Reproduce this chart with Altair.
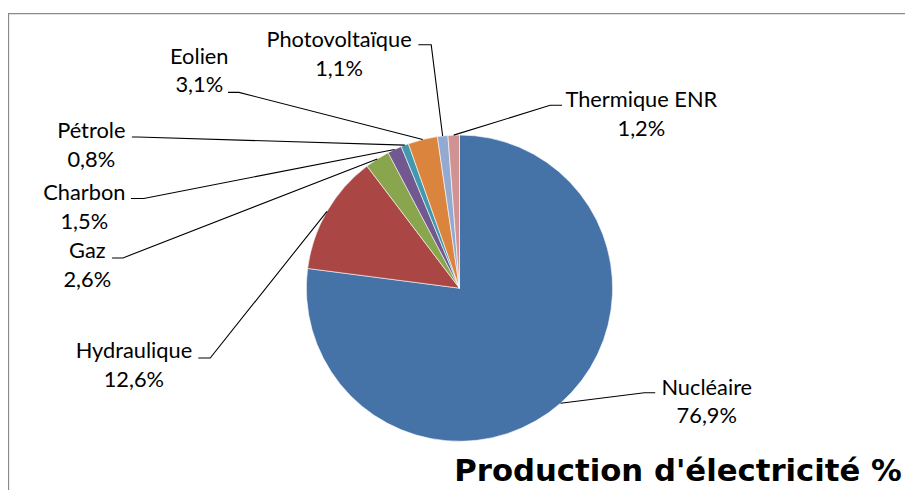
import math
import altair as alt
import pandas as pd

# ---- data ----
categories = ["Nucléaire", "Hydraulique", "Gaz", "Charbon", "Pétrole",
              "Eolien", "Photovoltaïque", "Thermique ENR"]
values = [76.9, 12.6, 2.6, 1.5, 0.8, 3.1, 1.1, 1.2]
colors = ["#4572A7", "#AA4643", "#89A54E", "#71588F", "#4198AF",
          "#DB843D", "#93A9CF", "#D19392"]
title_text = "Production d'électricité %"

# ---- layout (page pixel coordinates; chart origin is at page (8, 8)) ----
OX, OY = 8, 8
W, H = 905, 482
CX, CY, R = 463.5 - OX, 288.5 - OY, 154.5

label_cx = [713, 135, 88, 85, 92, 201, 342, 647]
label_base = [396, 359, 258, 200, 137, 62, 45, 106]
line_gap = 29
leader_start_x = [661, 200, 113, 132, 133, 230, 422, 567]
leader_elbow_x = [650, 212, 124, 145, 139, 241, 435, 555]
leader_y = [394, 359, 258, 198, 136, 91, 43, 104]

LABEL_FONT = "Lato"
LABEL_SIZE = 22

# ---- tables built from the arrays ----
pie_df = pd.DataFrame({"category": categories, "value": values,
                       "idx": list(range(len(categories)))})

total = sum(values)
cum = 0.0
line_rows, text_rows = [], []
for i, (c, v) in enumerate(zip(categories, values)):
    mid = (cum + v / 2.0) / total * 2 * math.pi
    cum += v
    ex = CX + R * math.sin(mid)
    ey = CY - R * math.cos(mid)
    pts = [(leader_start_x[i] - OX, leader_y[i] - OY),
           (leader_elbow_x[i] - OX, leader_y[i] - OY),
           (ex, ey)]
    for k, (px, py) in enumerate(pts):
        line_rows.append({"category": c, "pt": k, "x": px, "y": py})
    pct = f"{v:.1f}".replace(".", ",") + "%"
    text_rows.append({"category": c, "label": c, "x": label_cx[i] - OX,
                      "y": label_base[i] - OY})
    text_rows.append({"category": c, "label": pct, "x": label_cx[i] - OX,
                      "y": label_base[i] + line_gap - OY})

line_df = pd.DataFrame(line_rows)
text_df = pd.DataFrame(text_rows)
title_df = pd.DataFrame({"label": [title_text], "x": [684 - OX], "y": [483 - OY]})

X = lambda f: alt.X(f, type="quantitative", scale=None, axis=None)
Y = lambda f: alt.Y(f, type="quantitative", scale=None, axis=None)

frame = alt.Chart(pd.DataFrame({"a": [0]})).mark_rect(
    fill=None, stroke="#8a8a8a", strokeWidth=1.3
).encode(x=alt.value(0.5), x2=alt.value(W + 20), y=alt.value(3.5), y2=alt.value(H + 20))

pie = alt.Chart(pie_df).mark_arc(outerRadius=R, stroke="white", strokeWidth=0.6).encode(
    theta=alt.Theta("value:Q", stack=True),
    color=alt.Color("category:N", scale=alt.Scale(domain=categories, range=colors), legend=None),
    order=alt.Order("idx:Q"),
    x=alt.value(CX),
    y=alt.value(CY),
)

leaders = alt.Chart(line_df).mark_line(color="black", strokeWidth=1.1).encode(
    x=X("x"), y=Y("y"), detail="category:N", order="pt:Q"
)

labels = alt.Chart(text_df).mark_text(
    align="center", baseline="alphabetic", font=LABEL_FONT, fontSize=LABEL_SIZE, color="black"
).encode(x=X("x"), y=Y("y"), text="label:N")

title = alt.Chart(title_df).mark_text(
    align="center", baseline="alphabetic", font="DejaVu Sans", fontWeight="bold",
    fontSize=31, color="black"
).encode(x=X("x"), y=Y("y"), text="label:N")

chart = alt.layer(frame, pie, leaders, labels, title).properties(
    width=W, height=H, padding=0, autosize=alt.AutoSizeParams(type="none"),
    background="white"
).configure_view(strokeWidth=0)

chart.save("out.html", embed_options={"renderer": "svg", "actions": False})
